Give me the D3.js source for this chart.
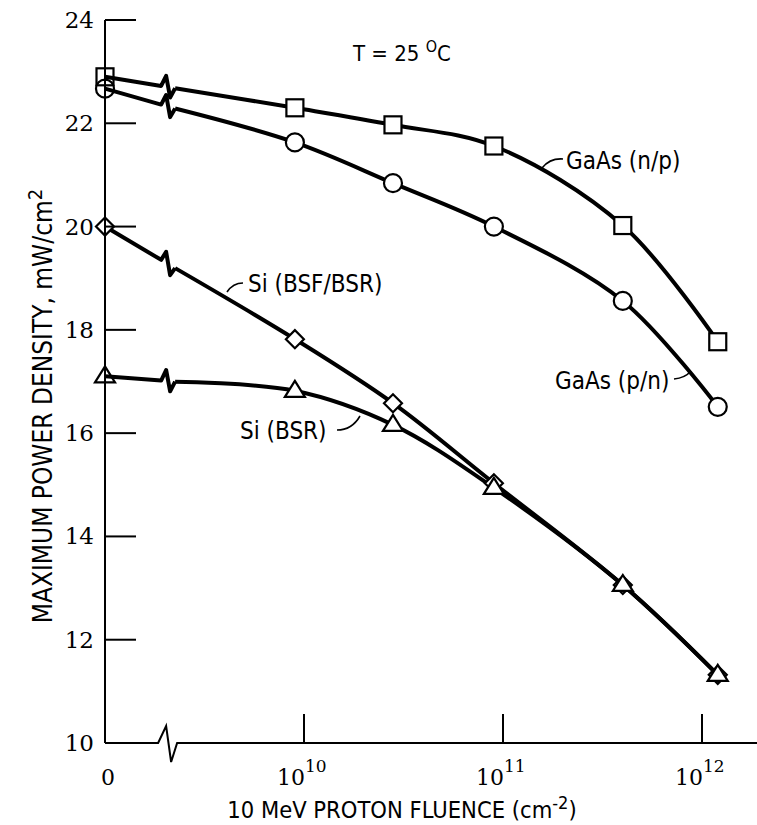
<!DOCTYPE html>
<html><head><meta charset="utf-8">
<script src="https://cdnjs.cloudflare.com/ajax/libs/d3/7.8.5/d3.min.js"></script>
<style>
body{margin:0;background:#fff;}
svg{display:block;}
.sans{font-family:"DejaVu Sans Condensed","DejaVu Sans",sans-serif;font-stretch:condensed;}
.serif{font-family:"DejaVu Serif",serif;}
</style></head>
<body>
<svg id="chart" width="757" height="825"></svg>
<script>
// ---- data ----
const fluence = [0, 9e9, 2.8e10, 9e10, 4e11, 1.2e12];
const gaasNP  = [22.9, 22.3, 21.97, 21.56, 20.02, 17.77];
const gaasPN  = [22.67, 21.63, 20.84, 20.0, 18.56, 16.51];
const siBSFBSR = [20.0, 17.82, 16.58, 15.03, 13.06, 11.32];
const siBSR   = [17.1, 16.82, 16.16, 14.94, 13.06, 11.32];
const yTicks = [10, 12, 14, 16, 18, 20, 22, 24];
const xTickExp = [10, 11, 12];
const breakFluence = 2.1e9;

const svg = d3.select("#chart");
const x = d3.scaleLog().domain([1e9, 1e12]).range([105, 702]);
const y = d3.scaleLinear().domain([10, 24]).range([743, 20]);
const xp = f => f === 0 ? x(1e9) : x(f);
const xEnd = 757;

// zigzag offsets (screen px) for break marks
const zigCurve = [[-8,0],[-3,-11],[1,10],[6,0]];
const zigAxis = [[-11,0],[-3,-17],[2,19],[8,0]];

function seriesPath(vals){
  const p0 = [xp(fluence[0]), y(vals[0])];
  const p1 = [xp(fluence[1]), y(vals[1])];
  const bx = x(breakFluence);
  const lin = xx => p0[1] + (p1[1]-p0[1])*(xx-p0[0])/(p1[0]-p0[0]);
  const pre = [p0];
  zigCurve.forEach(([dx,dy])=>{
    const xx = bx+dx;
    pre.push([xx, lin(xx)+dy]);
  });
  const end = pre[pre.length-1];
  const post = [end].concat(fluence.slice(1).map((f,i)=>[xp(f), y(vals[i+1])]));
  return {pre, post};
}

const g = svg.append("g");
const lineLin = d3.line().curve(d3.curveLinear);
const lineSmooth = d3.line().curve(d3.curveCatmullRom.alpha(0.5));

[gaasNP, gaasPN, siBSFBSR, siBSR].forEach(vals=>{
  const {pre, post} = seriesPath(vals);
  g.append("path").attr("d", lineLin(pre)).attr("fill","none").attr("stroke","#000")
    .attr("stroke-width",4).attr("stroke-linejoin","round");
  g.append("path").attr("d", lineSmooth(post)).attr("fill","none").attr("stroke","#000")
    .attr("stroke-width",4).attr("stroke-linejoin","round");
});

// markers
const mk = g.append("g").attr("fill","#fff").attr("stroke","#000").attr("stroke-width",2.2);
fluence.forEach((f,i)=>{
  const cx = xp(f);
  mk.append("rect").attr("x",cx-8.5).attr("y",y(gaasNP[i])-8.5).attr("width",17).attr("height",17)
    .attr("fill", i===0 ? "none" : "#fff");
  mk.append("circle").attr("cx",cx).attr("cy",y(gaasPN[i])).attr("r",9)
    .attr("fill", i===0 ? "none" : "#fff");
  const dy = y(siBSFBSR[i]);
  mk.append("path").attr("d",`M${cx-9},${dy}L${cx},${dy-9}L${cx+9},${dy}L${cx},${dy+9}Z`);
  const ty = y(siBSR[i]);
  mk.append("path").attr("d",`M${cx-10},${ty+6}L${cx},${ty-10}L${cx+10},${ty+6}Z`)
    .attr("fill", i===0 ? "none" : "#fff");
});

// axes
const ax = svg.append("g").attr("stroke","#000").attr("stroke-width",2).attr("fill","none");
ax.append("line").attr("x1",105).attr("x2",105).attr("y1",y(24)).attr("y2",y(10));
yTicks.forEach(t=>{
  if(t===10) return;
  ax.append("line").attr("x1",105).attr("x2",136).attr("y1",y(t)).attr("y2",y(t));
});
const bxA = x(breakFluence);
const axisPts = [[105,y(10)]].concat(zigAxis.map(([dx,dy])=>[bxA+dx,y(10)+dy])).concat([[xEnd,y(10)]]);
ax.append("path").attr("d", d3.line()(axisPts));
xTickExp.forEach(e=>{
  ax.append("line").attr("x1",x(Math.pow(10,e))).attr("x2",x(Math.pow(10,e)))
    .attr("y1",y(10)).attr("y2",y(10)-29);
});

// tick labels
svg.append("g").selectAll("text").data(yTicks).join("text")
  .attr("class","serif").attr("x",94).attr("y",d=>y(d)+8)
  .attr("text-anchor","end").attr("font-size",23).text(d=>d);

svg.append("text").attr("class","serif").attr("x",108).attr("y",785)
  .attr("text-anchor","middle").attr("font-size",22).text("0");
xTickExp.forEach(e=>{
  const tx = x(Math.pow(10,e));
  svg.append("text").attr("class","serif").attr("x",tx+1).attr("y",785)
    .attr("text-anchor","end").attr("font-size",22).text("10");
  svg.append("text").attr("class","serif").attr("x",tx+1).attr("y",772)
    .attr("text-anchor","start").attr("font-size",17).text(e);
});

// axis titles
const xt = svg.append("text").attr("class","sans").attr("x",402).attr("y",818)
  .attr("text-anchor","middle").attr("font-size",23.5);
xt.append("tspan").text("10 MeV  PROTON FLUENCE (cm");
xt.append("tspan").attr("dy",-9).attr("font-size",18).text("-2");
xt.append("tspan").attr("dy",9).text(")");

const yt = svg.append("text").attr("class","sans")
  .attr("transform","translate(52,406) rotate(-90)")
  .attr("text-anchor","middle").attr("font-size",26);
yt.append("tspan").text("MAXIMUM POWER DENSITY,  mW/cm");
yt.append("tspan").attr("dy",-10).attr("font-size",20).text("2");

// annotations
const ann = svg.append("g").attr("class","sans").attr("font-size",24);
const tt = ann.append("text").attr("x",353).attr("y",61).attr("font-size",22);
tt.append("tspan").text("T = 25 ");
tt.append("tspan").attr("dy",-9).attr("font-size",16).text("O");
tt.append("tspan").attr("dy",9).text("C");

ann.append("text").attr("x",566).attr("y",169).text("GaAs (n/p)");
ann.append("text").attr("x",555).attr("y",389).text("GaAs (p/n)");
ann.append("text").attr("x",248).attr("y",292).text("Si (BSF/BSR)");
ann.append("text").attr("x",240).attr("y",439).text("Si (BSR)");

const ld = svg.append("g").attr("fill","none").attr("stroke","#000").attr("stroke-width",1.6);
ld.append("path").attr("d","M563,159 Q550,158 542,168");
ld.append("path").attr("d","M674,379 Q685,378 691,371");
ld.append("path").attr("d","M243,283 Q233,283 227,292");
ld.append("path").attr("d","M337,430 Q352,430 360,416");
</script>
</body></html>
